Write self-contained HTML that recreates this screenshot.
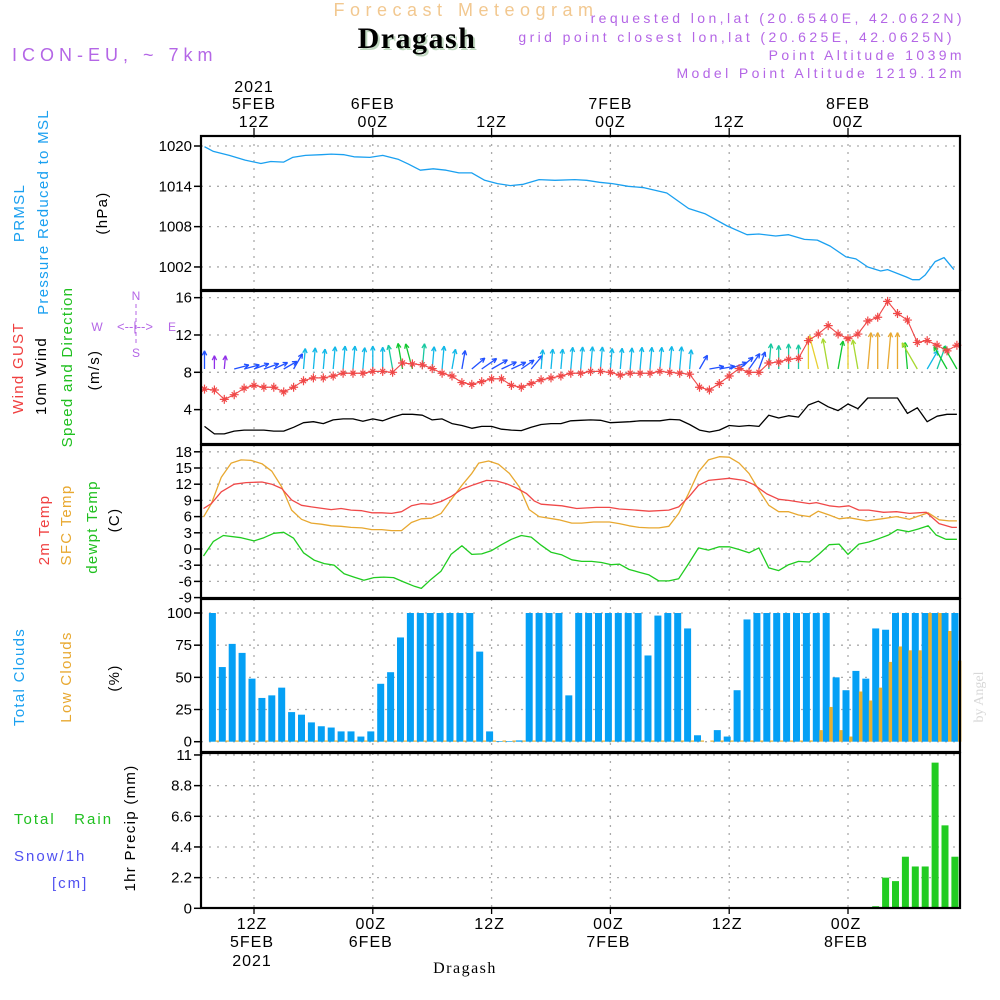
<!DOCTYPE html>
<html><head><meta charset="utf-8">
<style>
html,body{margin:0;padding:0;background:#fff;}
svg{display:block;font-family:"Liberation Sans",sans-serif;}
</style></head>
<body>
<svg id="chart" width="1000" height="1000" viewBox="0 0 1000 1000" xmlns="http://www.w3.org/2000/svg">
  <g id="header">
    <text x="466" y="16" text-anchor="middle" font-size="18" fill="#f2c890" letter-spacing="5.5">Forecast Meteogram</text>
    <text x="419" y="50" text-anchor="middle" font-family="Liberation Serif, serif" font-weight="bold" font-size="30" fill="#c0d8c0" letter-spacing="1.5">Dragash</text>
    <text x="417" y="48" text-anchor="middle" font-family="Liberation Serif, serif" font-weight="bold" font-size="30" fill="#000" letter-spacing="1.5">Dragash</text>
    <text x="12" y="61" font-size="18" fill="#b466e6" letter-spacing="5">ICON-EU, ~ 7km</text>
    <text x="965" y="23" text-anchor="end" font-size="14" fill="#b466e6" letter-spacing="3.4">requested lon,lat (20.6540E, 42.0622N)</text>
    <text x="955" y="42" text-anchor="end" font-size="14" fill="#b466e6" letter-spacing="3.4">grid point closest lon,lat (20.625E, 42.0625N)</text>
    <text x="965" y="60" text-anchor="end" font-size="14" fill="#b466e6" letter-spacing="3.4">Point Altitude 1039m</text>
    <text x="965" y="78" text-anchor="end" font-size="14" fill="#b466e6" letter-spacing="3.4">Model Point Altitude 1219.12m</text>
  </g>
  <g id="leftlabels" font-size="15" letter-spacing="1.3">
    <text transform="translate(24,213) rotate(-90)" text-anchor="middle" fill="#1aa0f0">PRMSL</text>
    <text transform="translate(48,212) rotate(-90)" text-anchor="middle" fill="#1aa0f0">Pressure Reduced to MSL</text>
    <text transform="translate(107,213) rotate(-90)" text-anchor="middle" fill="#000">(hPa)</text>
    <text transform="translate(23,368) rotate(-90)" text-anchor="middle" fill="#f04040">Wind GUST</text>
    <text transform="translate(46,376) rotate(-90)" text-anchor="middle" fill="#000">10m Wind</text>
    <text transform="translate(72,367) rotate(-90)" text-anchor="middle" fill="#20c020">Speed and Direction</text>
    <text transform="translate(99,370) rotate(-90)" text-anchor="middle" fill="#000">(m/s)</text>
    <g fill="#b466e6" font-size="12" letter-spacing="0">
      <text x="136" y="300" text-anchor="middle">N</text>
      <text x="97" y="331" text-anchor="middle">W</text>
      <text x="172" y="331" text-anchor="middle">E</text>
      <text x="136" y="357" text-anchor="middle">S</text>
      <text x="135" y="331" text-anchor="middle" font-size="13">&lt;--|--&gt;</text>
      <line x1="136" y1="304" x2="136" y2="345" stroke="#b466e6" stroke-dasharray="4,3"/>
    </g>
    <text transform="translate(49,530) rotate(-90)" text-anchor="middle" fill="#f04040">2m Temp</text>
    <text transform="translate(71,525) rotate(-90)" text-anchor="middle" fill="#e8a830">SFC Temp</text>
    <text transform="translate(97,527) rotate(-90)" text-anchor="middle" fill="#20c020">dewpt Temp</text>
    <text transform="translate(119,520) rotate(-90)" text-anchor="middle" fill="#000">(C)</text>
    <text transform="translate(24,677) rotate(-90)" text-anchor="middle" fill="#1aa0f0">Total Clouds</text>
    <text transform="translate(71,677) rotate(-90)" text-anchor="middle" fill="#e8a830">Low Clouds</text>
    <text transform="translate(119,678) rotate(-90)" text-anchor="middle" fill="#000">(%)</text>
    <text x="14" y="824" fill="#20c020" letter-spacing="2">Total&#160;&#160;&#160;Rain</text>
    <text x="14" y="861" fill="#5050f0" letter-spacing="2">Snow/1h</text>
    <text x="52" y="888" fill="#5050f0" letter-spacing="2">[cm]</text>
    <text transform="translate(135,828) rotate(-90)" text-anchor="middle" fill="#000">1hr Precip (mm)</text>
    <text transform="translate(983,697) rotate(-90)" text-anchor="middle" font-family="Liberation Serif, serif" font-size="14" fill="#d8d8d8" letter-spacing="0">by Angel</text>
  </g>
  <g id="grid"></g>
  <g id="marks"></g>
  <g id="axes"></g>
</svg>
<script>
// ---------- data ----------
const timeTickHours = [12, 24, 36, 48, 60, 72];
const topDayLabels = ["5FEB", "6FEB", "", "7FEB", "", "8FEB"];
const hourLabels = ["12Z", "00Z", "12Z", "00Z", "12Z", "00Z"];
const yearLabel = "2021";

const presHours = [7.0,7.9,9.5,11.1,12.7,13.7,15.0,15.9,17.2,18.8,19.8,21.1,22.1,23.7,25.0,26.6,27.6,28.8,30.1,31.4,32.7,34.0,35.3,36.6,37.9,39.2,40.8,42.4,44.4,45.6,46.9,48.2,49.8,51.4,53.7,55.9,57.6,59.8,61.8,63.0,64.7,66.0,67.6,68.9,70.2,71.8,72.8,74.0,75.3,76.0,77.9,78.5,79.2,79.8,80.8,81.7,82.7];
const presVals = [1019.9,1019.2,1018.6,1017.9,1017.4,1017.7,1017.6,1018.3,1018.6,1018.7,1018.8,1018.7,1018.4,1018.3,1018.6,1018.0,1017.3,1016.4,1016.6,1016.4,1016.0,1016.0,1014.9,1014.4,1014.1,1014.3,1015.0,1014.9,1015.0,1014.9,1014.6,1014.4,1014.0,1013.8,1013.0,1010.7,1009.9,1008.1,1006.8,1006.9,1006.6,1006.8,1006.1,1006.0,1005.1,1003.5,1003.2,1002.0,1001.4,1001.6,1000.5,1000.1,1000.1,1000.8,1002.8,1003.4,1001.6];
const presTicks = [1020, 1014, 1008, 1002];

const windHours = [7,8,9,10,11,12,13,14,15,16,17,18,19,20,21,22,23,24,25,26,27,28,29,30,31,32,33,34,35,36,37,38,39,40,41,42,43,44,45,46,47,48,49,50,51,52,53,54,55,56,57,58,59,60,61,62,63,64,65,66,67,68,69,70,71,72,73,74,75,76,77,78,79,80,81,82,83];
const gustVals = [6.2,6.1,5.1,5.6,6.3,6.6,6.4,6.4,5.9,6.4,7.1,7.4,7.4,7.6,7.9,7.9,7.9,8.1,8.1,8.0,9.0,8.9,8.8,8.4,7.9,7.6,6.9,6.7,7.0,7.3,7.3,6.6,6.4,6.8,7.2,7.4,7.6,7.9,7.9,8.1,8.1,8.0,7.7,7.9,7.9,7.9,8.1,8.0,7.9,7.8,6.4,6.1,6.8,7.6,8.4,8.0,8.0,9.0,9.1,9.4,9.5,11.4,12.1,13.0,12.1,11.6,12.1,13.5,13.9,15.6,14.3,13.6,11.2,11.4,10.9,10.3,10.9];
const windSpeed = [2.2,1.4,1.4,1.7,1.8,1.8,1.8,1.7,1.7,2.1,2.6,2.7,2.5,2.9,3.0,3.0,2.75,3.0,2.8,3.2,3.5,3.5,3.4,2.9,3.0,2.5,2.3,2.0,2.2,2.2,1.9,1.8,1.75,2.1,2.4,2.5,2.5,2.8,2.85,2.9,2.86,2.6,2.65,2.7,2.8,2.8,2.8,2.95,2.9,2.4,1.8,1.6,1.8,2.3,2.2,2.3,2.2,3.4,3.1,3.35,3.2,4.5,4.9,4.3,3.9,4.6,4.1,5.25,5.25,5.25,5.25,3.6,4.2,2.7,3.3,3.5,3.5];
const windDir = [0,0,5,75,75,70,70,65,60,30,5,5,5,5,5,5,5,0,0,350,350,345,5,5,5,10,10,50,55,60,65,65,55,40,5,5,5,5,5,5,5,5,5,5,5,5,5,5,5,5,30,80,80,70,50,35,20,5,0,0,0,0,345,350,10,0,350,5,0,5,0,355,330,30,20,330,330];
const windTicks = [4, 8, 12, 16];

const t2Hours = [6.9,7.7,8.7,10.0,11.2,12.8,13.8,14.8,15.8,16.8,17.8,19.8,20.8,21.8,22.9,23.9,24.9,25.9,26.9,27.9,28.9,29.9,30.9,31.9,33.0,34.2,35.5,36.5,37.5,38.5,39.5,40.3,41.0,43.1,44.6,46.6,47.9,48.9,49.9,51.9,53.9,54.9,55.9,56.9,57.9,60.0,61.5,62.5,63.8,65.0,66.0,68.1,68.8,70.1,71.1,72.1,73.1,74.1,75.6,76.9,78.2,79.9,81.2,82.5,83.0];
const t2Vals = [7.5,8.4,10.6,12.0,12.3,12.4,12.0,11.2,9.1,8.1,7.8,7.3,7.5,7.2,7.1,6.7,6.7,6.6,6.9,8.0,8.4,8.3,8.8,9.7,11.1,11.9,12.7,12.6,12.1,11.3,10.3,8.9,8.3,8.0,7.5,7.7,7.7,7.4,7.3,7.0,7.2,7.8,9.6,11.8,12.7,13.1,12.7,11.9,10.2,9.2,9.0,8.4,8.6,8.0,7.8,8.0,7.2,7.2,6.8,6.9,6.6,6.8,4.7,4.0,4.0];
const sfcHours = [6.9,7.7,8.7,9.7,10.7,11.7,12.8,13.8,14.8,15.8,16.8,17.8,18.8,19.8,20.8,21.8,22.9,23.9,24.9,25.9,26.9,27.9,28.9,29.9,30.9,31.9,33.0,34.0,34.7,35.7,36.7,37.8,38.8,39.8,40.8,42.8,44.1,45.1,46.3,47.9,48.9,49.9,50.9,51.9,52.9,53.9,54.9,55.9,56.9,57.9,59.0,60.0,61.0,62.0,63.0,64.0,65.0,66.0,67.0,68.1,69.0,70.1,71.1,72.1,73.9,75.4,76.9,78.2,80.1,81.2,82.2,83.0];
const sfcVals = [5.9,8.4,13.3,15.9,16.5,16.4,15.8,14.4,11.5,7.2,5.5,4.8,4.6,4.3,4.2,4.0,3.9,3.6,3.6,3.4,3.4,4.9,5.6,5.7,6.6,9.1,11.8,14.0,15.9,16.3,15.7,14.0,11.5,7.3,6.0,5.4,4.8,4.8,5.0,5.0,4.7,4.3,4.0,3.9,3.9,4.2,6.6,10.3,14.3,16.5,17.1,17.0,15.9,14.0,10.9,8.1,6.9,6.9,6.3,6.0,7.0,6.3,5.6,5.8,5.2,5.6,6.0,5.5,6.7,5.4,5.2,5.2];
const dewHours = [6.9,7.9,8.9,10.7,12.0,13.0,14.0,15.0,16.0,17.0,18.1,19.1,20.1,21.1,22.1,23.1,24.1,25.1,26.1,27.1,28.2,28.9,29.9,30.9,31.9,33.0,34.0,35.0,36.0,37.0,38.0,39.0,40.0,41.0,42.0,43.1,44.1,45.1,46.1,47.1,48.1,48.9,49.9,50.9,51.9,52.9,53.9,54.9,55.9,56.9,57.9,59.0,60.0,61.0,62.0,63.0,64.0,65.0,66.0,67.0,68.1,69.1,70.1,71.1,72.0,73.1,74.1,75.1,76.1,77.0,78.1,79.1,80.1,80.9,81.9,83.0];
const dewVals = [-1.3,1.4,2.5,2.1,1.5,2.1,2.9,3.1,2.0,-0.7,-2.1,-2.7,-3.0,-4.6,-5.2,-5.8,-5.3,-5.2,-5.3,-6.1,-6.9,-7.3,-5.6,-4.1,-1.0,0.6,-1.0,-0.9,-0.3,0.8,1.8,2.5,2.2,0.7,-0.6,-1.1,-2.0,-2.3,-2.3,-2.5,-2.9,-2.8,-3.8,-4.3,-4.8,-5.9,-5.9,-5.5,-2.7,0.2,-0.2,0.4,0.4,-0.1,-0.7,0.2,-3.5,-4.0,-2.9,-2.3,-2.4,-0.9,0.8,0.9,-1.0,0.9,1.3,1.9,2.6,3.6,3.2,3.7,4.3,2.6,1.8,1.8];
const tempTicks = [18,15,12,9,6,3,0,-3,-6,-9];

const barHours = [8,9,10,11,12,13,14,15,16,17,18,19,20,21,22,23,24,25,26,27,28,29,30,31,32,33,34,35,36,37,38,39,40,41,42,43,44,45,46,47,48,49,50,51,52,53,54,55,56,57,58,59,60,61,62,63,64,65,66,67,68,69,70,71,72,73,74,75,76,77,78,79,80,81,82,83];
const cloudTotal = [100,58,76,69,49,34,36,42,23,21,15,12,11,8,8,4,8,45,54,81,100,100,100,100,100,100,100,70,8,0.5,0.5,1,100,100,100,100,36,100,100,100,100,100,100,100,67,98,100,100,88,5,0,9,4,40,95,100,100,100,100,100,100,100,100,50,40,55,49,88,87,100,100,100,100,100,100,100];
const cloudLow = [0,0,0,0,0,0,0,0,0,0,0,0,0,0,0,0,0,0,0,0,0,0,0,0,0,0,0,0,0,0,0,0,0,0,0,0,0,0,0,0,0,0,0,0,0,0,0,0,0,0,0,0,0,0,0,0,0,0,0,0,1,9,27,9,4,39,32,42,62,74,71,71,100,100,86,63];
const cloudTicks = [100,75,50,25,0];
const precipVals = [0,0,0,0,0,0,0,0,0,0,0,0,0,0,0,0,0,0,0,0,0,0,0,0,0,0,0,0,0,0,0,0,0,0,0,0,0,0,0,0,0,0,0,0,0,0,0,0,0,0,0,0,0,0,0,0,0,0,0,0,0,0,0,0,0,0,0,0.15,2.2,1.95,3.7,3.0,3.0,10.45,5.95,3.7];
const precipTicks = [11,8.8,6.6,4.4,2.2,0];
const precipTickLabels = ["11","8.8","6.6","4.4","2.2","0"];

// ---------- scales ----------
const L = 201, R = 960;
const X = h => 254 + (h - 12) * 9.9;
const yP = p => 146 + (1020 - p) * 6.72;
const yW = v => 372.3 - (v - 8) * 9.33;
const yT = t => 549 - t * 5.4;
const yC = c => 741.7 - c * 1.287;
const yR = p => 908.3 - p * 13.94;
const panels = [
  {name:'pressure-panel', top:136, bot:290},
  {name:'wind-panel', top:291, bot:444},
  {name:'temperature-panel', top:445, bot:598},
  {name:'clouds-panel', top:599, bot:752},
  {name:'precip-panel', top:753, bot:908}
];

const NS = 'http://www.w3.org/2000/svg';
function mk(parent, tag, attrs, txt) {
  const e = document.createElementNS(NS, tag);
  for (const k in attrs) e.setAttribute(k, attrs[k]);
  if (txt !== undefined) e.textContent = txt;
  parent.appendChild(e);
  return e;
}
const grid = document.getElementById('grid');
const marks = document.getElementById('marks');
const axes = document.getElementById('axes');
const dot = {stroke:'#aaa', 'stroke-width':1.3, 'stroke-dasharray':'2,6'};

panels.forEach(p => {
  timeTickHours.forEach(h => {
    const ln = mk(grid, 'line', Object.assign({x1:X(h), x2:X(h), y1:p.top, y2:p.bot}, dot));
    
    
  });
});
function hgrid(vals, fy, name) {
  vals.forEach(v => {
    const ln = mk(grid, 'line', Object.assign({x1:L, x2:R, y1:fy(v), y2:fy(v)}, dot));
    
    
  });
}
hgrid(presTicks, yP, 'pressure-gridline');
hgrid(windTicks, yW, 'wind-gridline');
hgrid(tempTicks, yT, 'temp-gridline');
hgrid(cloudTicks, yC, 'cloud-gridline');
hgrid(precipTicks, yR, 'precip-gridline');

function yaxis(vals, labels, fy, name) {
  vals.forEach((v, i) => {
    const y = fy(v);
    const t = mk(axes, 'line', {x1:L - 7, x2:L, y1:y, y2:y, stroke:'#000', 'stroke-width':1.5});
    
    
    const tx = mk(axes, 'text', {x:L - 9, y:y + 5, 'text-anchor':'end', 'font-size':15, fill:'#000'}, labels[i]);
    
    
  });
}
yaxis(presTicks, presTicks.map(String), yP, 'pressure');
yaxis(windTicks, windTicks.map(String), yW, 'wind');
yaxis(tempTicks, tempTicks.map(String), yT, 'temp');
yaxis(cloudTicks, cloudTicks.map(String), yC, 'cloud');
yaxis(precipTicks, precipTickLabels, yR, 'precip');

// ---------- series ----------
function line(hours, vals, fy, color, name, w) {
  const d = hours.map((h, i) => (i ? 'L' : 'M') + X(h).toFixed(1) + ',' + fy(vals[i]).toFixed(1)).join('');
  const p = mk(marks, 'path', {d:d, fill:'none', stroke:color, 'stroke-width':w || 1.3, 'stroke-linejoin':'round'});
  
  
  return p;
}
line(presHours, presVals, yP, '#1aa0f0', 'pressure-line');

barHours.forEach((h, i) => {
  const cx = X(h) - 2;
  const b = mk(marks, 'rect', {x:cx - 3.5, y:yC(cloudTotal[i]), width:7, height:yC(0) - yC(cloudTotal[i]), fill:'#05a0f5'});
  
  
});
barHours.forEach((h, i) => {
  const cx = X(h) + 1;
  const hgt = Math.max(1.2, yC(0) - yC(cloudLow[i]));
  const b = mk(marks, 'rect', {x:cx, y:yC(0) - hgt, width:3.5, height:hgt, fill:'#e8b030'});
  
  
});
barHours.forEach((h, i) => {
  if (precipVals[i] <= 0) return;
  const cx = X(h) - 2;
  const b = mk(marks, 'rect', {x:cx - 3.5, y:yR(precipVals[i]), width:7, height:yR(0) - yR(precipVals[i]), fill:'#22cc22'});
  
  
});
mk(marks, 'line', {x1:L, x2:R, y1:yR(0) - 0.5, y2:yR(0) - 0.5, stroke:'#5050f0', 'stroke-width':1, 'stroke-dasharray':'3,3'});

line(sfcHours, sfcVals, yT, '#e8a830', 'sfc-temp-line');
line(t2Hours, t2Vals, yT, '#f04848', '2m-temp-line');
line(dewHours, dewVals, yT, '#20cc20', 'dewpoint-line');

line(windHours, windSpeed, yW, '#000', 'wind-speed-line');
function windColor(s) {
  if (s < 1.5) return '#9030e8';
  if (s < 2.4) return '#2050ff';
  if (s < 3.1) return '#10b8e8';
  if (s < 3.45) return '#18c8a0';
  if (s < 4.0) return '#10c830';
  if (s < 4.4) return '#a8d830';
  if (s < 5.0) return '#e8d030';
  return '#e8a830';
}
windHours.forEach((h, i) => {
  const s = windSpeed[i];
  const len = 5 + s * 6;
  const a = windDir[i] * Math.PI / 180;
  const x0 = X(h), y0 = 369;
  const x1 = x0 + Math.sin(a) * len, y1 = y0 - Math.cos(a) * len;
  const c = windColor(s);
  const g = mk(marks, 'g', {stroke:c, 'stroke-width':1.3, fill:'none'});
  
  
  mk(g, 'line', {x1:x0, y1:y0, x2:x1, y2:y1});
  const hl = 5, spread = 0.45;
  [a + Math.PI - spread, a + Math.PI + spread].forEach(b => {
    mk(g, 'line', {x1:x1, y1:y1, x2:x1 + Math.sin(b) * hl, y2:y1 - Math.cos(b) * hl});
  });
});
line(windHours, gustVals, yW, '#f04848', 'wind-gust-line', 1.1);
windHours.forEach((h, i) => {
  const x = X(h), y = yW(gustVals[i]);
  const m = mk(marks, 'path', {d:`M${x-4.5},${y}H${x+4.5}M${x},${y-4.5}V${y+4.5}M${x-2.5},${y-2.5}L${x+2.5},${y+2.5}M${x-2.5},${y+2.5}L${x+2.5},${y-2.5}`, stroke:'#f04848', 'stroke-width':1.2});
  
  
});

// ---------- frames & time axes ----------
panels.forEach(p => {
  const r = mk(axes, 'rect', {x:L, y:p.top, width:R - L, height:p.bot - p.top, fill:'none', stroke:'#000', 'stroke-width':2.2});
  
  
});
timeTickHours.forEach((h, i) => {
  const x = X(h);
  mk(axes, 'line', {x1:x, x2:x, y1:128, y2:136, stroke:'#000', 'stroke-width':1.3});
  mk(axes, 'line', {x1:x, x2:x, y1:908, y2:914, stroke:'#000', 'stroke-width':1.3});
  const t1 = mk(axes, 'text', {x:x, y:127, 'text-anchor':'middle', 'font-size':16, 'letter-spacing':1}, hourLabels[i]);
  
  
  if (topDayLabels[i]) {
    const t2 = mk(axes, 'text', {x:x, y:109, 'text-anchor':'middle', 'font-size':16, 'letter-spacing':1}, topDayLabels[i]);
    
    
  }
  const b1 = mk(axes, 'text', {x:x - 2, y:929, 'text-anchor':'middle', 'font-size':16, 'letter-spacing':1}, hourLabels[i]);
  
  
  if (topDayLabels[i]) {
    const b2 = mk(axes, 'text', {x:x - 2, y:947, 'text-anchor':'middle', 'font-size':16, 'letter-spacing':1}, topDayLabels[i]);
    
    
  }
});
const y1 = mk(axes, 'text', {x:X(12), y:92, 'text-anchor':'middle', 'font-size':16, 'letter-spacing':1}, yearLabel);


const y2 = mk(axes, 'text', {x:X(12) - 2, y:966, 'text-anchor':'middle', 'font-size':16, 'letter-spacing':1}, yearLabel);


const fl = mk(axes, 'text', {x:465, y:973, 'text-anchor':'middle', 'font-size':16, 'font-family':'Liberation Serif, serif', fill:'#000', 'letter-spacing':1.5}, 'Dragash');


</script>
</body></html>
